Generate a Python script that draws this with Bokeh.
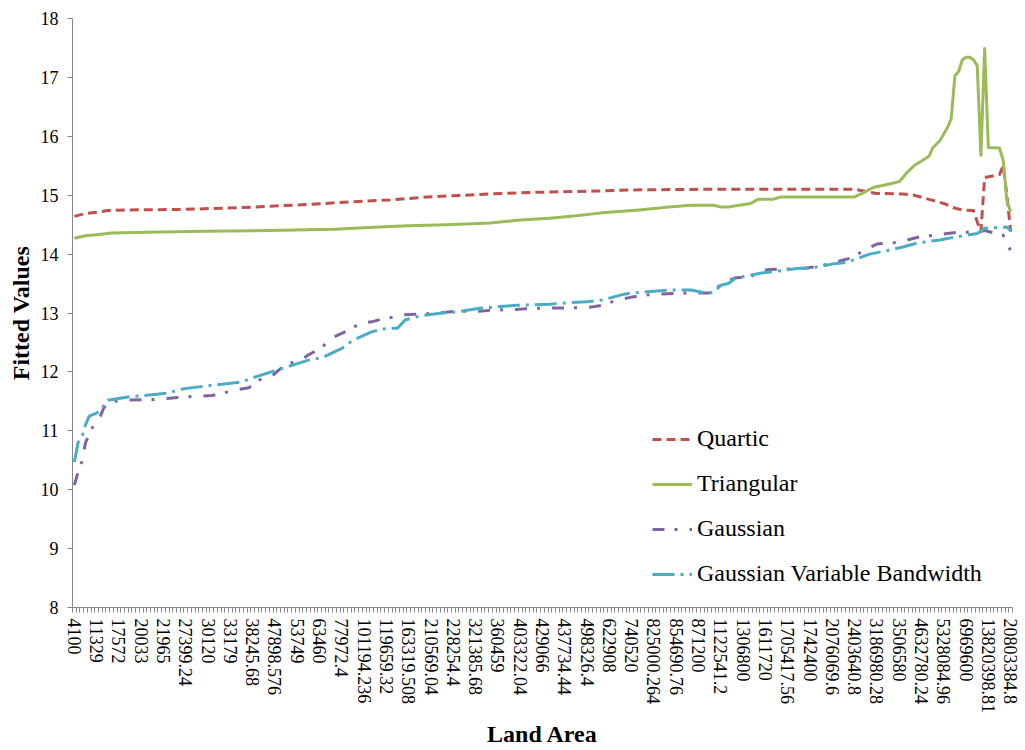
from bokeh.plotting import figure
from bokeh.models import Range1d, FixedTicker, Legend, LegendItem
from bokeh.embed import file_html
from bokeh.resources import INLINE

# ---- data ----
tick_labels = ["4100", "11329", "17572", "20033", "21965", "27399.24", "30120", "33179",
               "38245.68", "47898.576", "53749", "63460", "77972.4", "101194.236",
               "119659.32", "163319.508", "210569.04", "228254.4", "321385.68", "360459",
               "403322.04", "429066", "437734.44", "498326.4", "622908", "740520",
               "825000.264", "854690.76", "871200", "1122541.2", "1306800", "1611720",
               "1705417.56", "1742400", "2076069.6", "2403640.8", "3186980.28", "3506580",
               "4632780.24", "5328084.96", "6969600", "13820398.81", "20803384.8"]
n_categories = 253
label_step = 6

quartic_idx = [0, 3, 6, 9, 15, 30, 45, 55, 65, 75, 85, 95, 105, 115, 125, 140, 150, 170,
               195, 210, 214, 216, 223, 226, 230, 234, 237, 239, 242, 243, 244, 245, 249,
               250, 251, 252]
quartic_val = [14.64, 14.69, 14.71, 14.74, 14.75, 14.76, 14.79, 14.82, 14.85, 14.89, 14.92,
               14.97, 15.0, 15.03, 15.05, 15.07, 15.09, 15.1, 15.1, 15.1, 15.05, 15.03, 15.02,
               15.0, 14.93, 14.86, 14.78, 14.75, 14.74, 14.55, 14.38, 15.3, 15.35, 15.5,
               15.0, 14.38]

triangular_idx = [0, 3, 6, 10, 20, 35, 52, 70, 82, 90, 100, 112, 120, 128, 135, 142, 152,
                  160, 166, 172, 174, 176, 182, 184, 188, 190, 210, 212, 215, 220, 222, 223,
                  224, 226, 230, 231, 233, 235, 236, 237, 238, 239, 240, 241, 242, 243, 244,
                  245, 246, 249, 250, 251, 252]
triangular_val = [14.27, 14.31, 14.33, 14.36, 14.37, 14.39, 14.4, 14.42, 14.46, 14.48, 14.5,
                  14.53, 14.58, 14.61, 14.65, 14.7, 14.75, 14.8, 14.83, 14.83, 14.8, 14.8,
                  14.86, 14.93, 14.93, 14.97, 14.97, 15.03, 15.13, 15.2, 15.23, 15.3, 15.38,
                  15.5, 15.66, 15.8, 15.93, 16.15, 16.3, 17.03, 17.1, 17.3, 17.34, 17.34,
                  17.3, 17.2, 15.68, 17.49, 15.81, 15.8, 15.59, 14.9, 14.72]

gaussian_idx = [0, 1, 2, 3, 5, 7, 8, 11, 14, 21, 27, 31, 37, 40, 44, 47, 49, 53, 55, 57, 61,
                63, 66, 70, 74, 77, 80, 83, 87, 89, 92, 98, 103, 109, 113, 119, 123, 136, 139,
                142, 146, 150, 156, 166, 172, 174, 178, 182, 184, 187, 195, 199, 201, 204,
                207, 210, 212, 216, 219, 222, 226, 228, 232, 235, 238, 242, 245, 250, 251,
                252]
gaussian_val = [10.08, 10.3, 10.47, 10.8, 11.07, 11.25, 11.4, 11.5, 11.52, 11.53, 11.56,
                11.58, 11.6, 11.64, 11.7, 11.73, 11.85, 11.92, 12.03, 12.13, 12.2, 12.29,
                12.39, 12.6, 12.71, 12.83, 12.85, 12.9, 12.94, 12.97, 12.98, 13.0, 13.03,
                13.03, 13.05, 13.06, 13.08, 13.09, 13.1, 13.13, 13.22, 13.27, 13.32, 13.34,
                13.34, 13.5, 13.6, 13.61, 13.7, 13.74, 13.75, 13.78, 13.8, 13.85, 13.9,
                13.95, 14.05, 14.17, 14.19, 14.2, 14.27, 14.3, 14.32, 14.35, 14.37, 14.37,
                14.4, 14.32, 14.15, 14.07]

gvb_idx = [0, 1, 2, 3, 4, 6, 7, 9, 15, 19, 25, 29, 34, 38, 45, 48, 53, 57, 63, 67, 72, 75,
           80, 84, 87, 89, 93, 99, 103, 109, 113, 119, 128, 132, 138, 142, 148, 150, 156, 160,
           166, 170, 172, 174, 176, 178, 185, 188, 195, 198, 204, 208, 214, 218, 223, 227,
           233, 237, 243, 245, 251, 252]
gvb_val = [10.47, 10.8, 10.88, 11.1, 11.25, 11.3, 11.35, 11.52, 11.58, 11.6, 11.64, 11.71,
           11.75, 11.78, 11.83, 11.9, 12.0, 12.08, 12.2, 12.25, 12.4, 12.54, 12.68, 12.74,
           12.74, 12.88, 12.95, 13.0, 13.02, 13.08, 13.1, 13.13, 13.15, 13.17, 13.19, 13.22,
           13.32, 13.34, 13.37, 13.39, 13.39, 13.34, 13.35, 13.47, 13.5, 13.59, 13.68, 13.7,
           13.76, 13.76, 13.83, 13.86, 14.0, 14.05, 14.12, 14.19, 14.24, 14.29, 14.35, 14.44,
           14.46, 14.4]

series_names = ["Quartic", "Triangular", "Gaussian", "Gaussian Variable Bandwidth"]
series_colors = ["#C0504D", "#9BBB59", "#8064A2", "#4BACC6"]
series_dashes = ["9 5", "solid", "12 10 3 12", "22 6 3 6"]

# ---- figure ----
FONT = "Liberation Serif"
p = figure(width=1025, height=750, output_backend="svg", toolbar_location=None,
           x_range=Range1d(-0.5, n_categories - 0.5), y_range=Range1d(8, 18),
           min_border_left=72, min_border_right=13, min_border_top=18,
           min_border_bottom=142)
p.outline_line_color = None
p.xgrid.visible = False
p.ygrid.visible = False
p.background_fill_color = "white"
p.border_fill_color = "white"

renderers = []
data = [(quartic_idx, quartic_val), (triangular_idx, triangular_val),
        (gaussian_idx, gaussian_val), (gvb_idx, gvb_val)]
for (xs, ys), color, dash in zip(data, series_colors, series_dashes):
    r = p.line(xs, ys, line_color=color, line_width=3, line_dash=dash,
               line_join="round")
    renderers.append(r)

# x axis
label_pos = [i * label_step for i in range(len(tick_labels))]
xax = p.xaxis[0]
xax.ticker = FixedTicker(ticks=label_pos,
                         minor_ticks=[i - 0.5 for i in range(n_categories + 1)])
xax.major_label_overrides = {pos: lab for pos, lab in zip(label_pos, tick_labels)}
xax.major_label_orientation = "vertical"
xax.major_label_text_font = FONT
xax.major_label_text_font_size = "18px"
xax.major_label_text_color = "black"
xax.major_label_standoff = 6
xax.major_tick_line_color = None
xax.major_tick_out = 5
xax.major_tick_in = 0
xax.minor_tick_out = 5
xax.minor_tick_in = 0
xax.minor_tick_line_color = "#868686"
xax.axis_line_color = "#868686"
xax.axis_label = "Land Area"
xax.axis_label_text_font = FONT
xax.axis_label_text_font_style = "bold"
xax.axis_label_text_font_size = "24px"
xax.axis_label_text_color = "black"
xax.axis_label_standoff = 5

# y axis
yax = p.yaxis[0]
yax.ticker = FixedTicker(ticks=list(range(8, 19)), minor_ticks=[])
yax.major_label_text_font = FONT
yax.major_label_text_font_size = "18px"
yax.major_label_text_color = "black"
yax.major_label_standoff = 9
yax.major_tick_out = 5
yax.major_tick_in = 0
yax.major_tick_line_color = "#868686"
yax.axis_line_color = "#868686"
yax.axis_label = "Fitted Values"
yax.axis_label_text_font = FONT
yax.axis_label_text_font_style = "bold"
yax.axis_label_text_font_size = "24px"
yax.axis_label_text_color = "black"
yax.axis_label_standoff = 4

legend = Legend(items=[LegendItem(label=n, renderers=[r]) for n, r in zip(series_names, renderers)],
                location=(580, 20))
legend.label_text_font = FONT
legend.label_text_font_size = "24px"
legend.label_text_color = "black"
legend.glyph_width = 40
legend.glyph_height = 26
legend.label_height = 26
legend.label_standoff = 5
legend.spacing = 18
legend.padding = 0
legend.margin = 0
legend.border_line_color = None
legend.background_fill_alpha = 0
p.add_layout(legend)

open("out.html", "w").write(file_html(p, INLINE))
